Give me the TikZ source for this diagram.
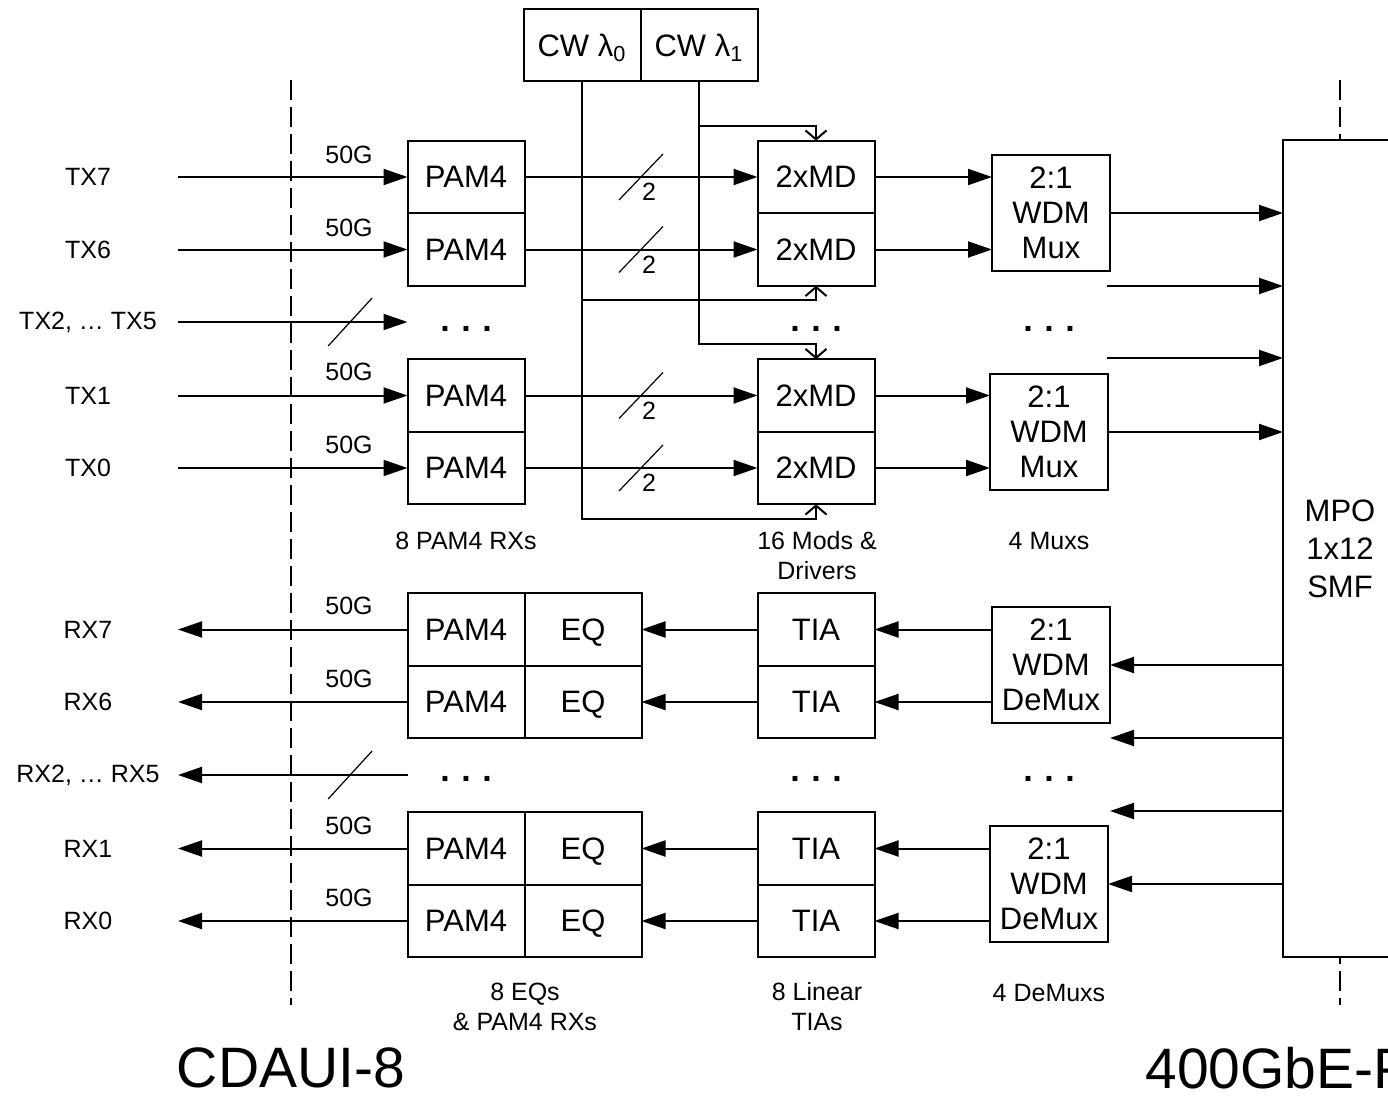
\documentclass[tikz,border=0pt]{standalone}
\usepackage{fontspec}
\setmainfont{Liberation Sans}
\usetikzlibrary{positioning,arrows.meta}

\begin{document}
\begin{tikzpicture}[x=0.5pt, y=-0.5pt,
  box/.style={draw, line width=1pt, align=center, inner sep=0pt, outer sep=0pt, minimum width=58.5pt, minimum height=36.25pt, text depth=0pt, font=\fontsize{15.5}{17.5}\selectfont},
  muxbox/.style={box, minimum width=59pt, minimum height=58pt},
  lbl/.style={align=center, inner sep=0pt, font=\fontsize{12.5}{15}\selectfont},
  port/.style={lbl, minimum width=90pt, outer sep=0pt},
  big/.style={inner sep=0pt, font=\fontsize{28.5}{30}\selectfont},
  dots/.style={inner sep=0pt, anchor=base, font=\fontsize{17}{18}\selectfont\bfseries},
  arrow/.style={-{Triangle[length=12pt, width=8pt]}, line width=1pt},
  feed/.style={-{Straight Barb[length=4.5pt, width=10.5pt]}, line width=1pt},
  bus/.style={line width=0.6pt},
  border/.style={line width=1pt, dash pattern=on 10pt off 3.5pt}
]
\clip (0,0) rectangle (1388,1097);

% interface boundaries
\draw[border] (291,80) -- (291,1005);
\draw[border] (1340,80) -- (1340,1005);

% lasers
\node[box] (cw0) at (582,45) {CW λ\textsubscript{0}};
\node[box, right=0pt of cw0] (cw1) {CW λ\textsubscript{1}};

% transmit path
\node[port] (tx7) at (88,177) {TX7};
\node[port] (tx6) at (88,249.5) {TX6};
\node[port] (txm) at (88,322) {TX2, … TX5};
\node[port] (tx1) at (88,395.5) {TX1};
\node[port] (tx0) at (88,468) {TX0};

\node[lbl] (g7) at (349,155) {50G};
\node[lbl] (g6) at (349,228) {50G};
\node[lbl] (g1) at (349,372) {50G};
\node[lbl] (g0) at (349,445) {50G};

\node[box] (p7) at (466,177) {PAM4};
\node[box, below=0pt of p7] (p6) {PAM4};
\node[box] (p1) at (466,395.5) {PAM4};
\node[box, below=0pt of p1] (p0) {PAM4};

\node[box] (m7) at (816,177) {2xMD};
\node[box, below=0pt of m7] (m6) {2xMD};
\node[box] (m1) at (816,395.5) {2xMD};
\node[box, below=0pt of m1] (m0) {2xMD};

\node[muxbox] (mux1) at (1051,213) {2:1\\WDM\\Mux};
\node[muxbox] (mux2) at (1049,432) {2:1\\WDM\\Mux};

\node[dots] (td1) at (466,331) {.\hspace{0.34em}.\hspace{0.34em}.};
\node[dots] (td2) at (816,331) {.\hspace{0.34em}.\hspace{0.34em}.};
\node[dots] (td3) at (1049,331) {.\hspace{0.34em}.\hspace{0.34em}.};

\node[lbl] (cap1) at (466,541) {8 PAM4 RXs};
\node[lbl] (cap2) at (817,556) {16 Mods \&\\Drivers};
\node[lbl] (cap3) at (1049,541) {4 Muxs};

% fibre connector
\node[box, fill=white, minimum width=57pt, minimum height=408.5pt, font=\fontsize{15.5}{19}\selectfont] (mpo) at (1340,548.5) {MPO\\1x12\\SMF};

\draw[arrow] (tx7) -- (p7);
\draw[arrow] (tx6) -- (p6);
\draw[arrow] (txm) -- (txm -| p7.west) coordinate[pos=0.75] (txs);
\draw[bus] ([shift={(-22,24)}]txs) -- ([shift={(22,-24)}]txs);
\draw[arrow] (tx1) -- (p1);
\draw[arrow] (tx0) -- (p0);

\draw[arrow] (p7) -- (m7) coordinate[midway] (s7);
\draw[arrow] (p6) -- (m6) coordinate[midway] (s6);
\draw[arrow] (p1) -- (m1) coordinate[midway] (s1);
\draw[arrow] (p0) -- (m0) coordinate[midway] (s0);
\draw[bus] ([shift={(-22,23)}]s7) -- ([shift={(22,-23)}]s7);
\draw[bus] ([shift={(-22,23)}]s6) -- ([shift={(22,-23)}]s6);
\draw[bus] ([shift={(-22,23)}]s1) -- ([shift={(22,-23)}]s1);
\draw[bus] ([shift={(-22,23)}]s0) -- ([shift={(22,-23)}]s0);
\node[lbl] (n7) at ([shift={(8,15)}]s7) {2};
\node[lbl] (n6) at ([shift={(8,15)}]s6) {2};
\node[lbl] (n1) at ([shift={(8,15)}]s1) {2};
\node[lbl] (n0) at ([shift={(8,15)}]s0) {2};

\draw[feed] (cw0.south) -- ++(0,438) -| (m0.south);
\draw[feed] (cw0.south) ++(0,219) -| (m6.south);
\draw[feed] (cw1.south) -- ++(0,263) -| (m1.north);
\draw[feed] (cw1.south) ++(0,45) -| (m7.north);

\draw[arrow] (m7) -- (m7 -| mux1.west);
\draw[arrow] (m6) -- (m6 -| mux1.west);
\draw[arrow] (m1) -- (m1 -| mux2.west);
\draw[arrow] (m0) -- (m0 -| mux2.west);

\coordinate (tf1) at (1107,286);
\coordinate (tf2) at (1107,358);
\draw[arrow] (mux1) -- (mux1 -| mpo.west);
\draw[arrow] (tf1) -- (tf1 -| mpo.west);
\draw[arrow] (tf2) -- (tf2 -| mpo.west);
\draw[arrow] (mux2) -- (mux2 -| mpo.west);

% receive path
\node[port] (rx7) at (88,629.5) {RX7};
\node[port] (rx6) at (88,702) {RX6};
\node[port] (rxm) at (88,775) {RX2, … RX5};
\node[port] (rx1) at (88,848.5) {RX1};
\node[port] (rx0) at (88,921) {RX0};

\node[lbl] (rg7) at (349,606) {50G};
\node[lbl] (rg6) at (349,679) {50G};
\node[lbl] (rg1) at (349,826) {50G};
\node[lbl] (rg0) at (349,898) {50G};

\node[box] (rp7) at (466,629.5) {PAM4};
\node[box, right=0pt of rp7] (re7) {EQ};
\node[box, below=0pt of rp7] (rp6) {PAM4};
\node[box, right=0pt of rp6] (re6) {EQ};
\node[box] (rp1) at (466,848.5) {PAM4};
\node[box, right=0pt of rp1] (re1) {EQ};
\node[box, below=0pt of rp1] (rp0) {PAM4};
\node[box, right=0pt of rp0] (re0) {EQ};

\node[box] (t7) at (816,629.5) {TIA};
\node[box, below=0pt of t7] (t6) {TIA};
\node[box] (t1) at (816,848.5) {TIA};
\node[box, below=0pt of t1] (t0) {TIA};

\node[muxbox] (dm1) at (1051,665) {2:1\\WDM\\DeMux};
\node[muxbox] (dm2) at (1049,884) {2:1\\WDM\\DeMux};

\node[dots] (rd1) at (466,781) {.\hspace{0.34em}.\hspace{0.34em}.};
\node[dots] (rd2) at (816,781) {.\hspace{0.34em}.\hspace{0.34em}.};
\node[dots] (rd3) at (1049,781) {.\hspace{0.34em}.\hspace{0.34em}.};

\node[lbl] (cap4) at (525,1007) {8 EQs\\\& PAM4 RXs};
\node[lbl] (cap5) at (817,1007) {8 Linear\\TIAs};
\node[lbl] (cap6) at (1049,993) {4 DeMuxs};

\coordinate (rf1) at (1110,738);
\coordinate (rf2) at (1110,811);
\draw[arrow] (dm1 -| mpo.west) -- (dm1);
\draw[arrow] (rf1 -| mpo.west) -- (rf1);
\draw[arrow] (rf2 -| mpo.west) -- (rf2);
\draw[arrow] (dm2 -| mpo.west) -- (dm2);

\draw[arrow] (t7 -| dm1.west) -- (t7);
\draw[arrow] (t6 -| dm1.west) -- (t6);
\draw[arrow] (t1 -| dm2.west) -- (t1);
\draw[arrow] (t0 -| dm2.west) -- (t0);

\draw[arrow] (t7) -- (re7);
\draw[arrow] (t6) -- (re6);
\draw[arrow] (t1) -- (re1);
\draw[arrow] (t0) -- (re0);

\draw[arrow] (rp7) -- (rx7);
\draw[arrow] (rp6) -- (rx6);
\draw[arrow] (rxm -| rp7.west) -- (rxm) coordinate[pos=0.25] (rxs);
\draw[bus] ([shift={(-22,24)}]rxs) -- ([shift={(22,-24)}]rxs);
\draw[arrow] (rp1) -- (rx1);
\draw[arrow] (rp0) -- (rx0);

% interface names
\node[big] (cdaui) at (291,1068) {CDAUI-8};
\node[big, anchor=west] (pmd) at (1145,1068) {400GbE-PSM4};
\end{tikzpicture}
\end{document}
